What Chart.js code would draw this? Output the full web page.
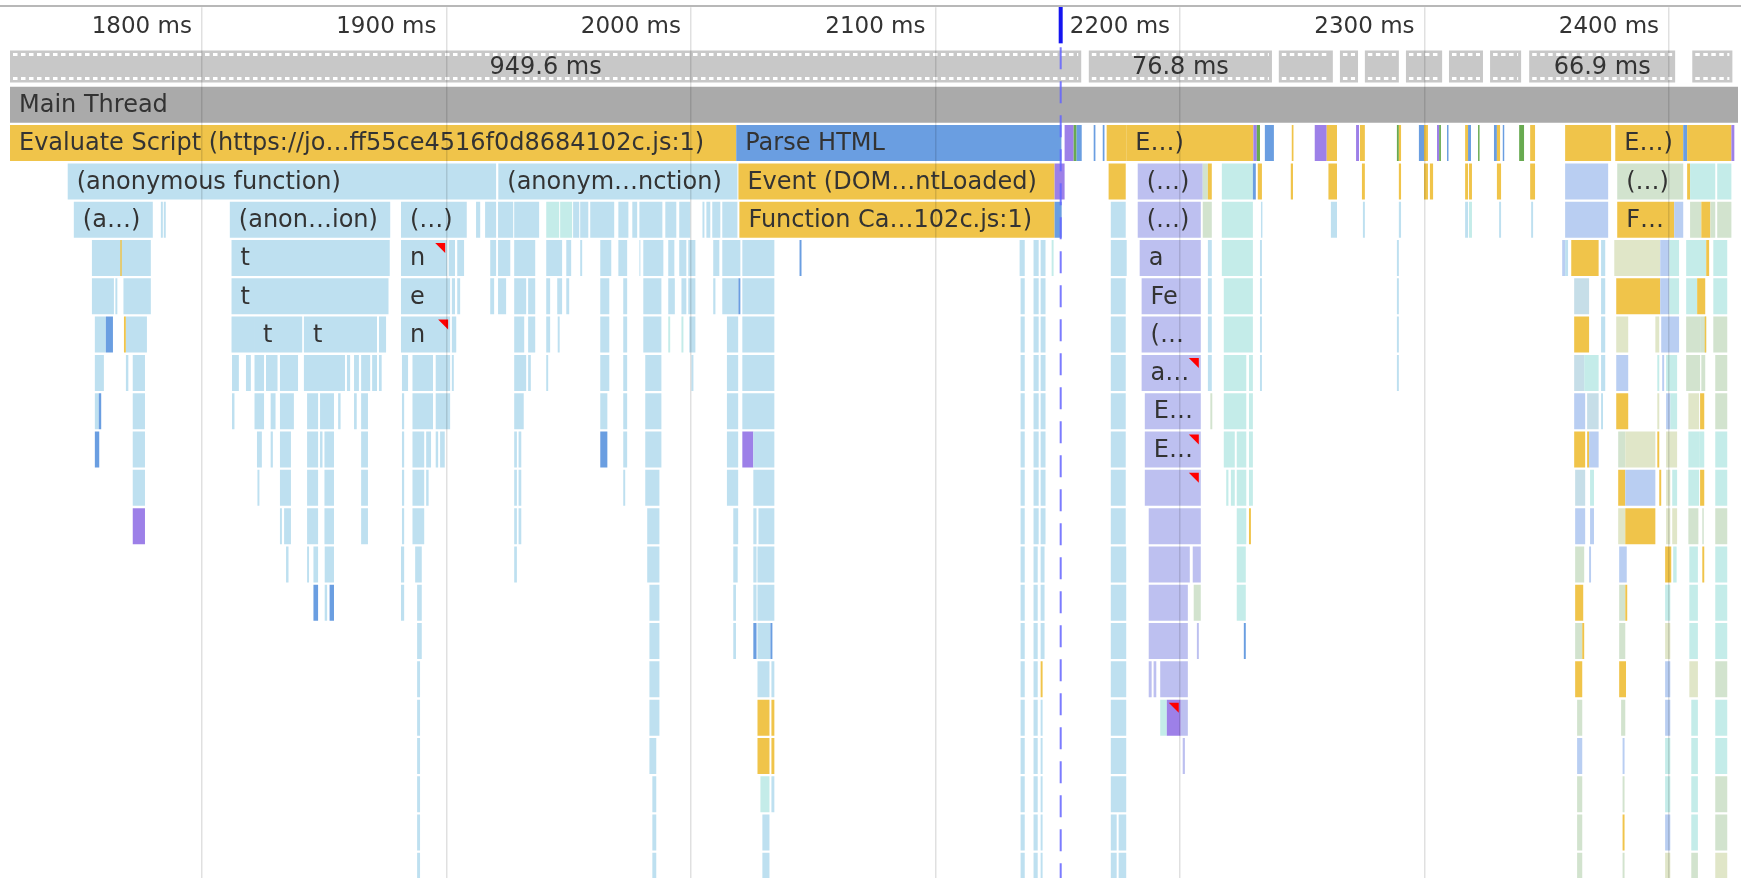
<!DOCTYPE html>
<html>
<head>
<meta charset="utf-8">
<title>Main Thread flame chart</title>
<script src="https://cdn.jsdelivr.net/npm/chart.js@4.4.0/dist/chart.umd.min.js"></script>
<style>
  html, body { margin: 0; padding: 0; overflow: hidden; background: #fff; }
  #wrap { width: 1741px; height: 878px; overflow: hidden; }
</style>
</head>
<body>
<div id="wrap"><canvas id="flameChart" width="1741" height="890"></canvas></div>
<script>
// visible time window (ms)
const timeMin = 1721.5;
const timeMax = 2428.2;
const domContentLoaded = 2151.2;

// ruler ticks (ms)
const tickValues = [1800, 1900, 2000, 2100, 2200, 2300, 2400];

// rows of the chart, top to bottom
const rowNames = ['frames', 'main', 'r0', 'r1', 'r2', 'r3', 'r4', 'r5', 'r6', 'r7', 'r8', 'r9',
                  'r10', 'r11', 'r12', 'r13', 'r14', 'r15', 'r16', 'r17', 'r18', 'r19'];

// frames: [start ms, end ms, label]
const frames = [
  [1209.9, 2159.6, '949.6 ms'],
  [2162.7, 2237.6, '76.8 ms'],
  [2240.4, 2262.5, ''],
  [2265.4, 2272.8, ''],
  [2275.6, 2289.5, ''],
  [2292.4, 2307.2, ''],
  [2310.0, 2323.9, ''],
  [2326.8, 2339.5, ''],
  [2342.8, 2402.5, '66.9 ms'],
  [2409.5, 2425.9, '']
];

// call stack rows: [start ms, end ms, event type, label, warning]
const row0 = [
  [1700, 2018.5, 'script', 'Evaluate Script (https://jo…ff55ce4516f0d8684102c.js:1)'],
  [2018.5, 2151.5, 'layout', 'Parse HTML'],
  [2152.8, 2156.5, 'paint'], [2156.5, 2157.7, 'green'], [2157.7, 2159.8, 'layout'],
  [2164.7, 2165.4, 'layout'], [2168.4, 2169.1, 'layout'],
  [2170.0, 2178.0, 'script'], [2178.0, 2230.0, 'script', 'E…)'],
  [2230.0, 2231.4, 'paint'], [2231.4, 2232.7, 'green'], [2234.7, 2238.4, 'layout'],
  [2245.7, 2246.4, 'script'], [2255.1, 2260.0, 'paint'], [2260.0, 2264.2, 'script'],
  [2272.0, 2273.2, 'paint'], [2273.6, 2275.6, 'script'],
  [2288.7, 2289.5, 'green'], [2289.5, 2290.4, 'script'],
  [2297.7, 2299.8, 'layout'], [2299.8, 2301.4, 'script'],
  [2305.1, 2306.0, 'paint'], [2306.0, 2306.7, 'green'], [2309.2, 2309.8, 'layout'],
  [2316.6, 2317.8, 'script'], [2317.8, 2319.0, 'layout'], [2321.9, 2322.5, 'green'],
  [2328.4, 2329.6, 'layout'], [2329.6, 2330.9, 'script'], [2332.0, 2332.6, 'layout'],
  [2338.7, 2340.7, 'green'], [2343.2, 2345.2, 'script'],
  [2357.5, 2376.3, 'script'], [2378.0, 2405.8, 'script', 'E…)'],
  [2405.8, 2407.4, 'layout'], [2407.4, 2425.5, 'script'], [2425.5, 2426.7, 'paint']
];
const row1 = [
  [1745.1, 1920.3, 'js', '(anonymous function)'],
  [1921.2, 2019.0, 'js', '(anonym…nction)'],
  [2019.4, 2148.7, 'script', 'Event (DOM…ntLoaded)'],
  [2148.7, 2152.8, 'paint'],
  [2170.8, 2177.8, 'script'],
  [2182.7, 2209.3, 'lav', '(…)'],
  [2209.3, 2211.4, 'sage'], [2211.4, 2213.0, 'script'],
  [2217.1, 2229.8, 'teal'], [2229.8, 2231.0, 'layout'], [2231.8, 2233.5, 'script'],
  [2245.3, 2246.2, 'script'], [2260.7, 2264.2, 'script'], [2274.4, 2275.6, 'script'],
  [2289.5, 2290.4, 'script'], [2299.8, 2301.4, 'script'], [2302.2, 2303.5, 'script'],
  [2316.6, 2317.8, 'script'], [2318.2, 2319.4, 'script'], [2329.6, 2331.3, 'script'],
  [2343.2, 2345.2, 'script'],
  [2357.5, 2375.1, 'peri'],
  [2378.8, 2405.8, 'sage', '(…)'],
  [2407.4, 2408.6, 'script'], [2408.6, 2418.9, 'teal'], [2419.7, 2425.5, 'teal']
];
const row2 = [
  [1747.6, 1779.9, 'js', '(a…)'],
  [1783.2, 1784.0, 'js'], [1784.4, 1785.2, 'js'],
  [1811.4, 1877.0, 'js', '(anon…ion)'],
  [1881.4, 1908.3, 'js', '(…)'],
  [1912.1, 1913.8, 'js'], [1915.8, 1920.3, 'js'], [1921.1, 1927.3, 'js'], [1927.7, 1937.9, 'js'],
  [1940.8, 1946.1, 'teal'], [1946.5, 1951.4, 'teal'], [1951.8, 1954.3, 'js'], [1954.7, 1958.0, 'js'],
  [1958.8, 1968.6, 'js'], [1970.3, 1974.4, 'js'], [1976.0, 1978.0, 'js'], [1978.9, 1988.3, 'js'],
  [1989.5, 1994.0, 'js'], [1995.2, 1999.7, 'js'], [2004.7, 2005.5, 'js'], [2006.3, 2007.9, 'js'],
  [2008.7, 2012.0, 'js'], [2012.8, 2019.0, 'js'],
  [2019.8, 2148.7, 'script', 'Function Ca…102c.js:1)'],
  [2148.7, 2151.6, 'layout'],
  [2171.7, 2177.8, 'js'],
  [2182.7, 2208.5, 'lav', '(…)'],
  [2209.3, 2213.0, 'sage'], [2217.1, 2229.8, 'teal'], [2233.1, 2233.7, 'js'],
  [2261.7, 2264.2, 'js'], [2274.8, 2275.6, 'js'], [2289.5, 2290.4, 'js'],
  [2316.6, 2317.8, 'js'], [2318.2, 2319.4, 'teal'], [2330.5, 2331.3, 'js'], [2343.6, 2344.4, 'js'],
  [2357.5, 2375.1, 'peri'],
  [2378.8, 2402.1, 'script', 'F…'],
  [2402.1, 2405.8, 'peri'], [2408.6, 2413.2, 'sage'], [2413.2, 2416.9, 'script'],
  [2416.9, 2418.9, 'sage'], [2419.7, 2425.5, 'sage']
];
const row3 = [
  [1755.0, 1779.1, 'js'], [1766.6, 1767.2, 'script'],
  [1812.1, 1876.8, 'js', 't'],
  [1881.4, 1900.3, 'js', 'n', 1],
  [1900.9, 1903.5, 'js'], [1904.4, 1907.2, 'js'], [1917.9, 1920.3, 'js'], [1921.1, 1926.1, 'js'],
  [1927.7, 1936.3, 'js'], [1940.8, 1947.3, 'js'], [1949.0, 1951.0, 'js'], [1954.7, 1955.5, 'js'],
  [1962.9, 1967.4, 'js'], [1970.3, 1973.9, 'js'], [1978.9, 1979.3, 'js'], [1980.5, 1988.7, 'js'],
  [1990.7, 1993.2, 'js'], [1995.2, 1998.1, 'js'], [1998.9, 2001.8, 'js'], [2009.1, 2011.6, 'js'],
  [2012.8, 2020.2, 'js'], [2021.0, 2034.1, 'js'], [2044.4, 2045.2, 'layout'],
  [2134.4, 2136.5, 'js'], [2140.1, 2142.2, 'js'], [2143.0, 2145.0, 'js'], [2147.5, 2148.3, 'teal'],
  [2171.7, 2178.2, 'js'],
  [2183.5, 2208.5, 'lav', 'a'],
  [2211.4, 2213.0, 'js'], [2217.1, 2229.8, 'teal'], [2232.7, 2233.5, 'js'], [2288.7, 2289.5, 'js'],
  [2356.3, 2357.5, 'peri'], [2357.5, 2358.7, 'js'], [2360.0, 2371.2, 'script'], [2372.2, 2373.9, 'js'],
  [2377.6, 2396.4, 'olive'], [2396.4, 2400.1, 'peri'], [2400.1, 2404.1, 'teal'],
  [2407.0, 2415.2, 'teal'], [2415.2, 2416.4, 'script'], [2418.1, 2423.8, 'teal']
];
const row4 = [
  [1755.0, 1764.0, 'js'], [1764.6, 1765.4, 'js'], [1767.9, 1779.1, 'js'],
  [1812.1, 1876.3, 'js', 't'],
  [1881.4, 1901.5, 'js', 'e'],
  [1902.2, 1903.5, 'js'], [1904.4, 1905.6, 'js'], [1917.9, 1919.5, 'js'], [1921.1, 1924.4, 'js'],
  [1927.7, 1932.6, 'js'], [1933.4, 1936.3, 'js'], [1940.8, 1942.4, 'js'], [1945.3, 1947.3, 'js'],
  [1949.0, 1950.2, 'js'], [1962.9, 1966.6, 'js'], [1972.3, 1973.9, 'js'], [1980.5, 1987.9, 'js'],
  [1990.7, 1993.4, 'js'], [1996.1, 1998.1, 'js'], [1998.9, 2001.8, 'js'], [2009.1, 2010.0, 'js'],
  [2012.8, 2019.4, 'js'], [2019.4, 2020.2, 'layout'], [2021.0, 2034.1, 'js'],
  [2134.8, 2136.5, 'js'], [2140.1, 2142.2, 'js'], [2143.0, 2145.0, 'js'],
  [2171.7, 2177.8, 'js'],
  [2184.3, 2208.5, 'lav', 'Fe'],
  [2211.4, 2213.0, 'js'], [2217.9, 2229.8, 'teal'], [2232.7, 2233.5, 'js'], [2288.7, 2289.5, 'js'],
  [2361.2, 2367.3, 'gray'], [2372.2, 2373.9, 'js'], [2378.4, 2396.4, 'script'],
  [2396.4, 2400.1, 'peri'], [2400.1, 2404.1, 'teal'], [2407.0, 2411.5, 'teal'],
  [2411.5, 2414.8, 'script'], [2418.1, 2423.8, 'teal']
];
const row5 = [
  [1756.2, 1760.7, 'js'], [1760.7, 1763.6, 'layout'], [1768.1, 1768.9, 'script'], [1768.9, 1777.5, 'js'],
  [1812.1, 1821.3, 'js'],
  [1821.3, 1841.0, 'js', 't'],
  [1841.7, 1871.6, 'js', 't'],
  [1872.4, 1875.3, 'js'],
  [1881.4, 1901.5, 'js', 'n', 1],
  [1902.2, 1904.0, 'js'], [1927.7, 1931.8, 'js'], [1933.4, 1936.3, 'js'], [1940.8, 1942.4, 'js'],
  [1945.5, 1946.3, 'js'], [1962.9, 1966.6, 'js'], [1972.3, 1973.9, 'js'], [1980.5, 1987.9, 'js'],
  [1990.7, 1991.5, 'teal'], [1996.1, 1996.9, 'teal'], [1999.3, 2001.8, 'js'], [2014.7, 2019.3, 'js'],
  [2021.0, 2034.1, 'js'],
  [2134.8, 2136.5, 'js'], [2140.1, 2142.2, 'js'], [2143.0, 2145.0, 'js'],
  [2171.7, 2177.8, 'js'],
  [2184.3, 2208.5, 'lav', '(…'],
  [2211.4, 2213.0, 'js'], [2217.9, 2229.8, 'teal'], [2232.7, 2233.5, 'js'], [2288.7, 2289.5, 'js'],
  [2361.2, 2367.3, 'script'], [2372.2, 2373.9, 'js'], [2378.4, 2383.3, 'olive'],
  [2394.4, 2396.0, 'olive'], [2396.8, 2404.1, 'peri'], [2407.0, 2412.7, 'sage'],
  [2412.7, 2415.2, 'sage'], [2414.6, 2415.2, 'script'], [2418.1, 2423.8, 'sage']
];
const row6 = [
  [1756.2, 1759.9, 'js'], [1768.9, 1769.9, 'js'], [1771.7, 1776.7, 'js'],
  [1812.3, 1815.1, 'js'], [1818.0, 1820.0, 'js'], [1821.5, 1825.4, 'js'], [1826.2, 1830.9, 'js'],
  [1831.9, 1839.3, 'js'], [1841.7, 1858.5, 'js'], [1859.3, 1860.6, 'js'], [1862.2, 1864.2, 'js'],
  [1865.1, 1868.8, 'js'], [1869.6, 1871.6, 'js'], [1872.4, 1873.5, 'js'],
  [1881.8, 1884.3, 'js'], [1886.1, 1894.5, 'js'], [1895.6, 1901.5, 'js'], [1902.2, 1903.0, 'js'],
  [1927.7, 1932.6, 'js'], [1933.4, 1934.5, 'js'], [1940.8, 1941.6, 'js'],
  [1962.9, 1966.6, 'js'], [1972.3, 1973.9, 'js'], [1981.3, 1987.9, 'js'], [2000.2, 2001.0, 'js'],
  [2014.7, 2019.3, 'js'], [2021.0, 2034.1, 'js'],
  [2134.8, 2136.5, 'js'], [2140.1, 2142.2, 'js'], [2143.0, 2145.0, 'js'],
  [2171.7, 2177.8, 'js'],
  [2184.3, 2208.5, 'lav', 'a…', 1],
  [2211.4, 2213.0, 'js'], [2217.9, 2227.1, 'teal'], [2228.2, 2229.8, 'teal'],
  [2232.7, 2233.5, 'js'], [2288.7, 2289.5, 'js'],
  [2361.2, 2365.3, 'gray'], [2365.3, 2371.2, 'teal'], [2372.2, 2373.9, 'js'],
  [2378.4, 2383.3, 'peri'], [2395.2, 2396.0, 'teal'], [2397.2, 2398.0, 'peri'],
  [2398.8, 2403.3, 'teal'], [2407.0, 2412.7, 'sage'], [2413.2, 2414.8, 'sage'], [2418.9, 2423.8, 'sage']
];
const row7 = [
  [1756.2, 1757.8, 'js'], [1757.8, 1758.8, 'layout'], [1771.7, 1776.7, 'js'],
  [1812.3, 1813.3, 'js'], [1821.5, 1825.4, 'js'], [1828.1, 1830.1, 'js'], [1831.9, 1837.6, 'js'],
  [1843.0, 1847.5, 'js'], [1848.3, 1854.0, 'js'], [1855.7, 1856.7, 'js'], [1862.2, 1863.3, 'js'],
  [1865.1, 1867.9, 'js'], [1881.8, 1882.7, 'js'], [1886.1, 1894.5, 'js'], [1895.6, 1901.5, 'js'],
  [1927.7, 1931.6, 'js'], [1962.9, 1965.8, 'js'], [1972.3, 1973.9, 'js'], [1981.3, 1987.9, 'js'],
  [2014.7, 2019.3, 'js'], [2021.0, 2034.1, 'js'],
  [2134.8, 2136.5, 'js'], [2140.1, 2142.2, 'js'], [2143.0, 2145.0, 'js'],
  [2171.7, 2177.8, 'js'],
  [2185.6, 2208.5, 'lav', 'E…'],
  [2212.4, 2213.2, 'sage'], [2217.9, 2227.1, 'teal'], [2228.2, 2229.8, 'teal'],
  [2361.2, 2365.7, 'peri'], [2366.5, 2371.2, 'gray'], [2372.2, 2373.0, 'js'],
  [2378.4, 2383.3, 'script'], [2395.2, 2396.0, 'olive'], [2398.8, 2400.5, 'peri'],
  [2400.5, 2403.3, 'teal'], [2407.9, 2412.3, 'olive'], [2412.7, 2414.4, 'script'], [2418.9, 2423.8, 'sage']
];
const row8 = [
  [1756.2, 1758.0, 'layout'], [1771.7, 1776.7, 'js'],
  [1822.5, 1824.5, 'js'], [1828.1, 1829.0, 'js'], [1831.9, 1836.4, 'js'], [1843.0, 1847.5, 'js'],
  [1848.3, 1849.3, 'js'], [1850.1, 1854.0, 'js'], [1865.1, 1867.9, 'js'],
  [1881.8, 1882.7, 'js'], [1886.1, 1890.9, 'js'], [1891.7, 1893.7, 'js'], [1895.6, 1896.6, 'js'],
  [1897.4, 1899.3, 'js'], [1927.7, 1928.8, 'js'], [1929.5, 1930.6, 'js'],
  [1962.9, 1965.8, 'layout'], [1972.3, 1973.9, 'js'], [1981.3, 1987.9, 'js'], [2014.7, 2019.3, 'js'],
  [2021.0, 2025.5, 'paint'], [2025.5, 2034.1, 'js'],
  [2134.8, 2136.5, 'js'], [2140.1, 2142.2, 'js'], [2143.0, 2145.0, 'js'],
  [2171.7, 2177.8, 'js'],
  [2185.6, 2208.5, 'lav', 'E…', 1],
  [2217.9, 2222.4, 'teal'], [2223.2, 2227.1, 'teal'], [2228.2, 2229.8, 'teal'],
  [2361.2, 2365.7, 'script'], [2366.5, 2367.3, 'script'], [2367.3, 2371.2, 'peri'],
  [2379.2, 2382.1, 'sage'], [2382.1, 2394.4, 'olive'], [2395.2, 2396.0, 'script'],
  [2398.8, 2403.3, 'olive'], [2407.9, 2412.3, 'teal'], [2412.3, 2414.4, 'teal'], [2418.9, 2423.8, 'teal']
];
const row9 = [
  [1771.7, 1776.7, 'js'], [1822.7, 1823.5, 'js'], [1831.9, 1836.4, 'js'], [1843.0, 1847.5, 'js'],
  [1850.1, 1854.0, 'js'], [1865.1, 1867.9, 'js'], [1881.8, 1882.7, 'js'], [1886.1, 1890.9, 'js'],
  [1891.7, 1892.7, 'js'], [1927.7, 1928.8, 'js'], [1929.5, 1930.6, 'js'], [1972.3, 1973.1, 'js'],
  [1981.3, 1987.1, 'js'], [2014.7, 2019.3, 'js'], [2025.5, 2034.1, 'js'],
  [2134.8, 2136.5, 'js'], [2140.1, 2142.2, 'js'], [2143.0, 2145.0, 'js'],
  [2171.7, 2177.8, 'js'],
  [2185.6, 2208.5, 'lav', '', 1],
  [2218.9, 2219.8, 'teal'], [2220.8, 2222.4, 'teal'], [2223.2, 2227.1, 'teal'], [2228.2, 2229.8, 'teal'],
  [2361.6, 2365.7, 'gray'], [2367.7, 2369.3, 'teal'], [2379.2, 2382.1, 'script'],
  [2382.1, 2394.4, 'peri'], [2396.0, 2396.8, 'script'], [2398.8, 2400.5, 'olive'],
  [2401.3, 2403.3, 'teal'], [2407.9, 2412.3, 'teal'], [2412.7, 2414.4, 'script'], [2418.9, 2423.8, 'teal']
];
const row10 = [
  [1771.7, 1776.7, 'paint'], [1831.9, 1832.7, 'js'], [1833.6, 1836.4, 'js'], [1843.0, 1847.5, 'js'],
  [1850.1, 1854.0, 'js'], [1865.1, 1867.9, 'js'], [1881.8, 1882.7, 'js'], [1886.1, 1890.9, 'js'],
  [1927.7, 1928.8, 'js'], [1929.5, 1930.6, 'js'], [1982.1, 1987.1, 'js'], [2017.3, 2019.3, 'js'],
  [2025.5, 2026.8, 'js'], [2027.6, 2034.1, 'js'],
  [2134.8, 2136.5, 'js'], [2140.1, 2142.2, 'js'], [2143.0, 2145.0, 'js'],
  [2171.7, 2177.8, 'js'], [2187.2, 2208.5, 'lav'],
  [2223.2, 2227.1, 'teal'], [2228.2, 2229.0, 'script'],
  [2361.6, 2365.7, 'peri'], [2367.7, 2369.3, 'peri'], [2379.2, 2382.1, 'olive'],
  [2382.1, 2394.4, 'script'], [2398.8, 2400.5, 'olive'], [2401.3, 2403.3, 'olive'],
  [2407.9, 2412.0, 'sage'], [2413.6, 2414.2, 'sage'], [2418.9, 2423.8, 'sage']
];
const row11 = [
  [1834.4, 1835.4, 'js'], [1843.0, 1843.8, 'js'], [1845.6, 1847.5, 'js'], [1850.2, 1854.0, 'js'],
  [1881.4, 1882.7, 'js'], [1887.2, 1889.9, 'js'], [1927.7, 1928.8, 'js'], [1982.1, 1987.1, 'js'],
  [2017.3, 2019.1, 'js'], [2025.5, 2026.8, 'js'], [2027.2, 2034.1, 'js'],
  [2134.8, 2136.5, 'js'], [2140.1, 2141.8, 'js'], [2143.0, 2144.6, 'js'],
  [2171.7, 2178.0, 'js'], [2187.2, 2204.0, 'lav'], [2205.2, 2208.5, 'lav'], [2223.2, 2226.9, 'teal'],
  [2361.6, 2365.3, 'sage'], [2367.3, 2368.1, 'peri'], [2379.6, 2382.7, 'peri'],
  [2398.4, 2400.9, 'script'], [2401.7, 2403.1, 'teal'], [2408.3, 2411.8, 'teal'],
  [2413.6, 2414.4, 'script'], [2418.9, 2423.8, 'teal']
];
const row12 = [
  [1845.6, 1847.5, 'layout'], [1850.2, 1851.2, 'js'], [1852.2, 1854.0, 'layout'],
  [1881.4, 1882.7, 'js'], [1888.0, 1889.9, 'js'], [1983.0, 1987.1, 'js'], [2017.3, 2018.4, 'js'],
  [2025.5, 2026.8, 'js'], [2027.2, 2034.1, 'js'],
  [2134.8, 2136.5, 'js'], [2140.1, 2141.8, 'js'], [2143.0, 2144.6, 'js'],
  [2171.7, 2178.0, 'js'], [2187.2, 2203.2, 'lav'], [2205.6, 2208.5, 'sage'], [2223.2, 2226.9, 'teal'],
  [2361.6, 2364.9, 'script'], [2379.6, 2382.1, 'sage'], [2382.1, 2382.9, 'script'],
  [2398.4, 2400.5, 'teal'], [2408.3, 2411.8, 'teal'], [2418.9, 2423.8, 'teal']
];
const row13 = [
  [1888.0, 1889.9, 'js'], [1983.0, 1987.1, 'js'], [2017.3, 2018.4, 'js'],
  [2025.5, 2026.8, 'layout'], [2027.2, 2032.5, 'js'], [2032.5, 2033.3, 'layout'],
  [2134.8, 2136.5, 'js'], [2140.1, 2141.8, 'js'], [2143.0, 2144.6, 'js'],
  [2171.7, 2178.0, 'js'], [2187.2, 2203.2, 'lav'], [2206.9, 2207.7, 'lav'], [2226.1, 2226.9, 'layout'],
  [2361.6, 2364.5, 'sage'], [2364.5, 2365.3, 'script'], [2379.6, 2382.1, 'sage'],
  [2398.4, 2400.5, 'olive'], [2408.3, 2411.8, 'teal'], [2418.9, 2423.8, 'teal']
];
const row14 = [
  [1888.0, 1889.2, 'js'], [1983.0, 1987.1, 'js'], [2027.2, 2032.1, 'js'], [2032.9, 2034.1, 'js'],
  [2134.8, 2136.5, 'js'], [2140.1, 2141.8, 'js'], [2143.0, 2143.8, 'script'],
  [2171.7, 2178.0, 'js'], [2187.2, 2188.4, 'lav'], [2189.2, 2190.3, 'lav'], [2191.9, 2203.2, 'lav'],
  [2361.6, 2364.5, 'script'], [2379.6, 2382.4, 'script'], [2398.4, 2400.5, 'peri'],
  [2408.3, 2411.8, 'olive'], [2418.9, 2423.8, 'sage']
];
const row15 = [
  [1888.0, 1889.2, 'js'], [1983.0, 1987.1, 'js'], [2027.2, 2032.1, 'script'], [2032.9, 2034.1, 'script'],
  [2134.8, 2136.5, 'js'], [2140.1, 2141.8, 'js'], [2143.0, 2143.8, 'js'],
  [2171.7, 2178.0, 'js'], [2191.9, 2194.6, 'teal'], [2194.6, 2200.3, 'paint', '', 1], [2200.3, 2203.2, 'lav'],
  [2362.4, 2364.5, 'sage'], [2380.4, 2382.1, 'sage'], [2398.4, 2400.5, 'peri'],
  [2409.1, 2411.8, 'teal'], [2418.9, 2423.8, 'teal']
];
const row16 = [
  [1888.0, 1889.2, 'js'], [1983.0, 1985.8, 'js'], [2027.2, 2032.1, 'script'], [2032.9, 2034.1, 'script'],
  [2134.8, 2136.5, 'js'], [2140.1, 2141.8, 'js'], [2143.0, 2143.8, 'js'],
  [2171.7, 2178.0, 'js'], [2201.1, 2202.0, 'lav'],
  [2362.4, 2364.5, 'peri'], [2381.0, 2381.8, 'peri'], [2398.4, 2400.5, 'teal'],
  [2409.1, 2411.8, 'teal'], [2418.9, 2423.8, 'teal']
];
const row17 = [
  [1888.0, 1889.2, 'js'], [1984.2, 1985.8, 'js'], [2028.4, 2032.1, 'teal'], [2032.9, 2034.1, 'js'],
  [2134.8, 2136.5, 'js'], [2140.1, 2141.8, 'js'], [2143.0, 2143.8, 'js'],
  [2171.7, 2178.0, 'js'],
  [2362.4, 2364.5, 'sage'], [2381.0, 2381.8, 'sage'], [2398.4, 2400.5, 'teal'],
  [2409.1, 2411.8, 'teal'], [2418.9, 2423.8, 'sage']
];
const row18 = [
  [1888.0, 1889.2, 'js'], [1984.2, 1985.8, 'js'], [2029.2, 2032.1, 'js'],
  [2134.8, 2136.5, 'js'], [2140.1, 2141.8, 'js'], [2143.0, 2143.8, 'js'],
  [2171.7, 2174.1, 'js'], [2174.9, 2178.0, 'js'],
  [2362.4, 2364.5, 'sage'], [2381.0, 2381.8, 'script'], [2398.4, 2400.5, 'peri'],
  [2409.1, 2411.8, 'teal'], [2418.9, 2423.8, 'sage']
];
const row19 = [
  [1888.0, 1889.2, 'js'], [1984.2, 1985.8, 'js'], [2029.2, 2032.1, 'js'],
  [2134.8, 2136.5, 'js'], [2140.1, 2141.8, 'js'], [2143.0, 2143.8, 'js'],
  [2171.7, 2174.1, 'js'], [2174.9, 2178.0, 'js'],
  [2362.4, 2364.5, 'sage'], [2381.0, 2381.8, 'sage'], [2398.4, 2400.5, 'olive'],
  [2409.1, 2411.8, 'sage'], [2418.9, 2423.8, 'olive']
];

const stackRows = [row0, row1, row2, row3, row4, row5, row6, row7, row8, row9,
                   row10, row11, row12, row13, row14, row15, row16, row17, row18, row19];

// colour of each event type
const typeColors = {
  script: '#f0c44a',
  layout: '#6a9ee1',
  js: '#bee0f0',
  lav: '#bdc0f0',
  paint: '#9d80e8',
  teal: '#c4ece9',
  sage: '#d2e3ce',
  olive: '#e0e6c8',
  peri: '#b9cef2',
  gray: '#c6dee8',
  green: '#68aa50'
};

const labelFont = '24px "DejaVu Sans", sans-serif';

// build datasets
const datasets = [];
datasets.push({
  kind: 'frames',
  data: frames.map(f => ({ x: [f[0], f[1]], y: 'frames', label: f[2] })),
  backgroundColor: '#c8c8c8',
  barPercentage: 0.835
});
datasets.push({
  kind: 'header',
  data: [{ x: [timeMin - 50, timeMax + 50], y: 'main', label: 'Main Thread' }],
  backgroundColor: '#aaaaaa',
  barPercentage: 0.94
});
stackRows.forEach((row, i) => {
  datasets.push({
    kind: 'stack',
    data: row.map(b => ({ x: [b[0], b[1]], y: rowNames[i + 2], type: b[2], label: b[3] || '', warn: !!b[4] })),
    backgroundColor: ctx => (ctx.raw && typeColors[ctx.raw.type]) || '#cccccc',
    barPercentage: 0.94
  });
});
datasets.forEach(ds => {
  ds.categoryPercentage = 1;
  ds.grouped = false;
  ds.clip = 0;
  ds.borderWidth = 0;
});

// draw labels, film strips and warning corners on the bars
const barDecorations = {
  id: 'barDecorations',
  afterDatasetsDraw(chart) {
    const ctx = chart.ctx;
    const area = chart.chartArea;
    ctx.save();
    ctx.font = labelFont;
    ctx.textBaseline = 'middle';
    chart.data.datasets.forEach((ds, di) => {
      const meta = chart.getDatasetMeta(di);
      meta.data.forEach((el, i) => {
        const item = ds.data[i];
        const left = Math.max(Math.min(el.x, el.base), area.left);
        const right = Math.min(Math.max(el.x, el.base), area.right);
        if (right <= left) return;
        const top = el.y - el.height / 2;
        const h = el.height;

        if (ds.kind === 'frames') {
          ctx.save();
          ctx.strokeStyle = '#ffffff';
          ctx.lineWidth = 3;
          ctx.setLineDash([4.5, 3.5]);
          [top + 4, top + h - 4].forEach(yy => {
            ctx.beginPath();
            ctx.moveTo(left + 3, yy);
            ctx.lineTo(right - 3, yy);
            ctx.stroke();
          });
          ctx.restore();
        }

        if (item.label) {
          ctx.save();
          ctx.beginPath();
          ctx.rect(left, top, right - left, h);
          ctx.clip();
          ctx.fillStyle = '#333333';
          if (ds.kind === 'frames') {
            ctx.textAlign = 'center';
            ctx.fillText(item.label, (left + right) / 2, el.y + 1);
          } else {
            ctx.textAlign = 'left';
            ctx.fillText(item.label, left + 9, el.y + 1);
          }
          ctx.restore();
        }

        if (item.warn) {
          const r = right - 2;
          const t = top + 3;
          ctx.fillStyle = '#ff0000';
          ctx.beginPath();
          ctx.moveTo(r - 10, t);
          ctx.lineTo(r, t);
          ctx.lineTo(r, t + 10);
          ctx.closePath();
          ctx.fill();
        }
      });
    });
    ctx.restore();
  }
};

// ruler border and DOMContentLoaded marker
const timelineMarkers = {
  id: 'timelineMarkers',
  beforeDraw(chart) {
    const ctx = chart.ctx;
    ctx.save();
    ctx.strokeStyle = '#b8b8b8';
    ctx.lineWidth = 2;
    ctx.beginPath();
    ctx.moveTo(0, 6);
    ctx.lineTo(chart.width, 6);
    ctx.stroke();
    ctx.restore();
  },
  afterDraw(chart) {
    const ctx = chart.ctx;
    const area = chart.chartArea;
    const x = chart.scales.x.getPixelForValue(domContentLoaded);
    ctx.save();
    ctx.strokeStyle = '#1414f0';
    ctx.lineWidth = 4;
    ctx.beginPath();
    ctx.moveTo(x, 7);
    ctx.lineTo(x, area.top - 4);
    ctx.stroke();
    ctx.strokeStyle = 'rgba(100, 100, 255, 0.85)';
    ctx.lineWidth = 2;
    ctx.setLineDash([22, 12]);
    ctx.beginPath();
    ctx.moveTo(x, area.top);
    ctx.lineTo(x, chart.height);
    ctx.stroke();
    ctx.restore();
  }
};

const ctx = document.getElementById('flameChart').getContext('2d');
const flameChart = new Chart(ctx, {
  type: 'bar',
  data: { labels: rowNames, datasets: datasets },
  options: {
    indexAxis: 'y',
    responsive: false,
    animation: false,
    devicePixelRatio: 1,
    layout: { padding: { left: 10, right: 3, top: 0, bottom: 0 } },
    scales: {
      x: {
        type: 'linear',
        position: 'top',
        min: timeMin,
        max: timeMax,
        afterBuildTicks: scale => { scale.ticks = tickValues.map(v => ({ value: v })); },
        afterFit: scale => { scale.height = 47.35; },
        border: { display: false },
        grid: {
          z: 1,
          color: 'rgba(0, 0, 0, 0.12)',
          lineWidth: 1.5,
          drawTicks: true,
          tickLength: 40,
          tickColor: 'rgba(0, 0, 0, 0.12)'
        },
        ticks: {
          autoSkip: false,
          maxRotation: 0,
          align: 'end',
          labelOffset: -10,
          padding: -33,
          color: '#333333',
          font: { family: '"DejaVu Sans", sans-serif', size: 23 },
          callback: value => value + ' ms'
        }
      },
      y: {
        type: 'category',
        labels: rowNames,
        display: false,
        offset: true
      }
    },
    plugins: {
      legend: { display: false },
      tooltip: { enabled: false },
      title: { display: false }
    }
  },
  plugins: [barDecorations, timelineMarkers]
});
</script>
</body>
</html>
